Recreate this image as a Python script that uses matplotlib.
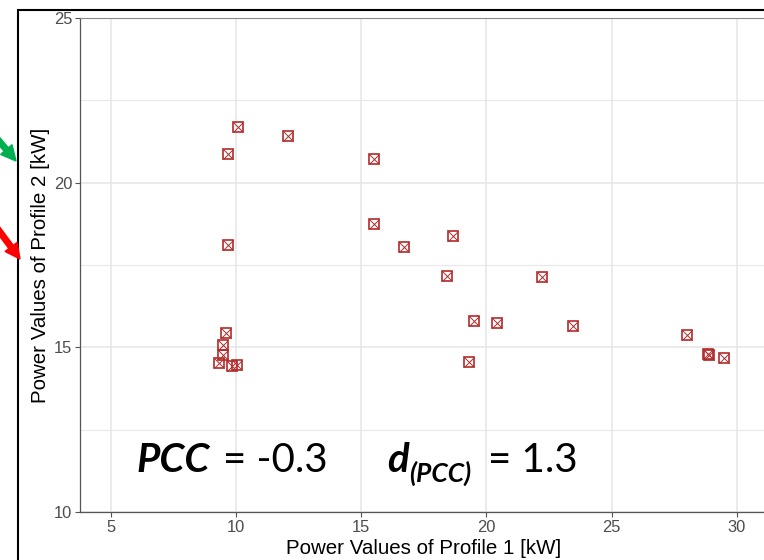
import matplotlib
matplotlib.use("Agg")
import matplotlib.pyplot as plt
from matplotlib.patches import Rectangle, FancyArrow

# ---- data ----
profile1_kw = [10.08, 12.08, 9.68, 15.52, 15.52, 9.68, 16.70, 18.67, 18.44, 22.20,
               19.50, 20.44, 23.44, 19.29, 28.00, 28.84, 28.88, 29.48,
               9.61, 9.49, 9.49, 9.33, 9.83, 10.05]
profile2_kw = [21.69, 21.42, 20.87, 20.72, 18.74, 18.11, 18.06, 18.37, 17.17, 17.13,
               15.80, 15.74, 15.64, 14.55, 15.37, 14.80, 14.78, 14.67,
               15.45, 15.07, 14.77, 14.52, 14.43, 14.46]
x_ticks = [5, 10, 15, 20, 25, 30]
y_ticks = [10, 15, 20, 25]
y_minor = [12.5, 17.5, 22.5]
pcc_value = "-0.3"
d_pcc_value = "1.3"

W, H = 764, 560
fig = plt.figure(figsize=(W / 100, H / 100), dpi=100)

def fx(px):
    return px / W

def fy(py):
    return 1 - py / H

ax = fig.add_axes([fx(80), fy(512), fx(768) - fx(80), fy(18) - fy(512)])
ax.set_xlim(5 + (80 - 111) / 25.03, 5 + (768 - 111) / 25.03)
ax.set_ylim(10, 25)

grid_c = "#E8E8E8"
ax.set_xticks(x_ticks)
ax.set_yticks(y_ticks)
ax.set_yticks(y_minor, minor=True)
ax.grid(True, which="major", color=grid_c, lw=1.2, zorder=0)
ax.grid(True, which="minor", axis="y", color=grid_c, lw=0.8, zorder=0)
ax.set_axisbelow(True)

for s in ["left", "bottom"]:
    ax.spines[s].set_color("#555555")
    ax.spines[s].set_linewidth(0.9)
ax.spines["top"].set_color("#888888")
ax.spines["top"].set_linewidth(0.8)
ax.spines["right"].set_visible(False)

tick_font = dict(family="Liberation Sans", size=11.9)
ax.tick_params(which="major", length=3.5, width=0.8, color="#555555",
               labelcolor="#4D4D4D", pad=2)
ax.tick_params(which="minor", length=0)
ax.set_xticklabels([str(t) for t in x_ticks], **tick_font)
ax.set_yticklabels([str(t) for t in y_ticks], **tick_font)

mcol = "#B22A2A"
ax.plot(profile1_kw, profile2_kw, ls="none", marker="s", ms=7.4, mfc="none",
        mec=mcol, mew=1.2, zorder=3)
ax.plot(profile1_kw, profile2_kw, ls="none", marker="x", ms=7.4,
        mec=mcol, mew=0.7, zorder=3)

lab_font = dict(family="Liberation Sans", size=14.8, color="black")
ax.set_xlabel("Power Values of Profile 1 [kW]", labelpad=3, **lab_font)
ax.set_ylabel("Power Values of Profile 2 [kW]", labelpad=3, **lab_font)

# annotation text
big = 29
small = 19
fam = "Lato"
fig.text(fx(136), fy(472), "PCC", family=fam, size=big, weight="bold", style="italic",
         ha="left", va="baseline")
fig.text(fx(223), fy(472), "= " + pcc_value, family=fam, size=big,
         ha="left", va="baseline")
fig.text(fx(387), fy(472), "d", family=fam, size=big, weight="bold", style="italic",
         ha="left", va="baseline")
fig.text(fx(409), fy(482), "(PCC)", family=fam, size=small, weight="bold", style="italic",
         ha="left", va="baseline")
fig.text(fx(488), fy(472), "= " + d_pcc_value, family=fam, size=big,
         ha="left", va="baseline")

# outer frame and arrows (pixel-based via inches transform)
T = fig.dpi_scale_trans
def inch(px, py):
    return px / 100, (H - py) / 100

x0, y0 = inch(18, 700)
x1, y1 = inch(900, 10)
fig.add_artist(Rectangle((x0, y0), x1 - x0, y1 - y0, fill=False, ec="black",
                         lw=1.5, transform=T, clip_on=False))

def arrow(start, tip, color):
    sx, sy = inch(*start)
    tx, ty = inch(*tip)
    fig.add_artist(FancyArrow(sx, sy, tx - sx, ty - sy, width=0.055,
                              head_width=0.15, head_length=0.15,
                              length_includes_head=True, color=color,
                              transform=T, clip_on=False))

arrow((-12, 128), (16, 161), "#00B050")
arrow((-6, 224), (20, 259), "#FF0000")

fig.savefig("out.png", dpi=100)
